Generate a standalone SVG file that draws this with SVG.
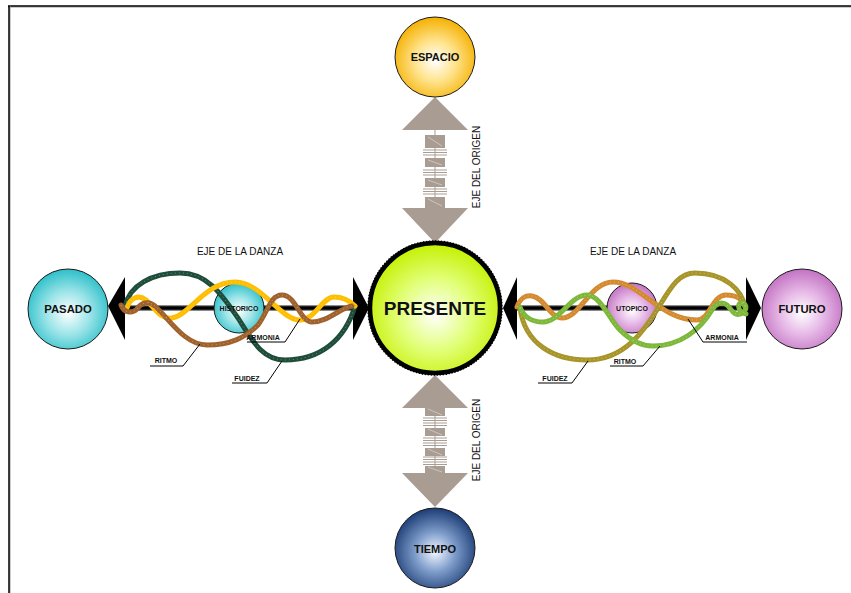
<svg xmlns="http://www.w3.org/2000/svg" xmlns:xlink="http://www.w3.org/1999/xlink" width="851" height="593" viewBox="0 0 851 593">
<style>
  .node{stroke:#1a1a1a;stroke-width:1}
  .lbl{font-family:"Liberation Sans",Arial,sans-serif;font-weight:bold;fill:#111;text-anchor:middle}
  .axis{font-family:"Liberation Sans",Arial,sans-serif;font-size:10px;fill:#111;text-anchor:middle}
  .small{font-family:"Liberation Sans",Arial,sans-serif;font-weight:bold;font-size:7px;fill:#111;text-anchor:middle}
  .rope{fill:none;stroke-width:5;stroke-linecap:round;stroke-linejoin:round}
  .tex{fill:none;stroke:#ffffff;stroke-width:1;stroke-dasharray:1 3;opacity:.35}
  .lead{fill:none;stroke:#000;stroke-width:1}
  .tri{fill:#A99C93}
  .box{fill:#A99C93}
  .rung{stroke:#A99C93;stroke-width:1}
  .diag{stroke:#D6CEC8;stroke-width:0.8}
  .head{fill:#000}
</style>
<defs>
  <radialGradient id="gOrange" cx="50%" cy="55%" r="55%">
    <stop offset="0" stop-color="#FFFFFF"/>
    <stop offset="0.45" stop-color="#FFE48F"/>
    <stop offset="1" stop-color="#F5B000"/>
  </radialGradient>
  <radialGradient id="gGreen" cx="50%" cy="55%" r="55%">
    <stop offset="0" stop-color="#FFFFFF"/>
    <stop offset="0.5" stop-color="#E2FF7A"/>
    <stop offset="1" stop-color="#C4F000"/>
  </radialGradient>
  <radialGradient id="gBlue" cx="50%" cy="55%" r="55%">
    <stop offset="0" stop-color="#F4F8FF"/>
    <stop offset="0.45" stop-color="#7F9DCB"/>
    <stop offset="1" stop-color="#1B3C75"/>
  </radialGradient>
  <radialGradient id="gCyan" cx="50%" cy="55%" r="55%">
    <stop offset="0" stop-color="#FFFFFF"/>
    <stop offset="0.5" stop-color="#9BE4E8"/>
    <stop offset="1" stop-color="#2DBFC9"/>
  </radialGradient>
  <radialGradient id="gPink" cx="50%" cy="55%" r="55%">
    <stop offset="0" stop-color="#FFFFFF"/>
    <stop offset="0.5" stop-color="#E6B8E6"/>
    <stop offset="1" stop-color="#C272C2"/>
  </radialGradient>
  <path id="lY" d="M127,308 C130,298 138,294 146,300 C154,307 160,320 172,318 C190,315 205,282 235,282 C262,282 280,320 300,320 C315,320 322,297 334,297 C346,297 352,303 355,306"/>
  <path id="lB" d="M121,305 C124,313 132,314 137,309 C141,303 148,300 155,306 C170,320 185,345 207,345 C230,345 245,338 258,325 C268,312 270,295 282,295 C296,295 300,322 312,322 C328,322 340,308 352,306"/>
  <path id="lG" d="M125,306 C130,285 152,273 180,273 C208,273 222,295 238,318 C252,340 262,360 285,360 C320,360 345,340 355,306"/>
  <path id="rO" d="M517,307 C520,298 526,295 532,296 C545,298 550,318 562,318 C580,318 590,282 613,282 C640,282 660,320 697,320 C710,320 712,295 726,295 C738,295 742,300 745,306"/>
  <path id="rG" d="M520,307 C524,318 532,322 543,322 C560,322 570,295 587,295 C600,295 610,320 620,330 C630,340 640,346 653,346 C680,346 700,330 712,310 C716,303 722,301 727,305 C732,310 734,316 740,314 C747,312 748,304 742,303 C737,302 737,312 746,314"/>
  <path id="rL" d="M520,308 C525,345 555,360 587,360 C625,360 645,330 660,305 C672,285 680,273 695,273 C725,273 742,290 745,307"/>
</defs>

<rect x="0" y="0" width="851" height="593" fill="#FFFFFF"/>
<g id="frame">
  <line x1="8" y1="7" x2="851" y2="7" stroke="#999" stroke-width="1"/>
  <line x1="8" y1="6" x2="851" y2="6" stroke="#000" stroke-width="1.5"/>
  <line x1="10" y1="6" x2="10" y2="593" stroke="#999" stroke-width="1"/>
  <line x1="9" y1="6" x2="9" y2="593" stroke="#000" stroke-width="1.5"/>
</g>

<g id="connectors">
  <g id="axis-top">
    <line x1="435" y1="130" x2="435" y2="208" class="rung"/>
    <g class="rung">
      <line x1="423" y1="150" x2="447" y2="150"/><line x1="423" y1="152.5" x2="447" y2="152.5"/><line x1="423" y1="155" x2="447" y2="155"/>
      <line x1="423" y1="170" x2="447" y2="170"/><line x1="423" y1="172.5" x2="447" y2="172.5"/><line x1="423" y1="175" x2="447" y2="175"/>
      <line x1="423" y1="189" x2="447" y2="189"/><line x1="423" y1="191.5" x2="447" y2="191.5"/><line x1="423" y1="194" x2="447" y2="194"/>
    </g>
    <rect x="425" y="135" width="20" height="13" class="box"/>
    <rect x="425" y="158" width="20" height="9" class="box"/>
    <rect x="425" y="178" width="20" height="9" class="box"/>
    <rect x="425" y="197" width="20" height="11" class="box"/>
    <g class="diag">
      <line x1="428" y1="137" x2="442" y2="146"/><line x1="428" y1="160" x2="442" y2="165"/>
      <line x1="428" y1="180" x2="442" y2="185"/><line x1="428" y1="199" x2="442" y2="206"/>
    </g>
    <polygon points="435,97 468,130 402,130" class="tri"/>
    <polygon points="402,208 468,208 435,243" class="tri"/>
  </g>
  <g id="axis-bottom">
    <line x1="435" y1="408" x2="435" y2="473" class="rung"/>
    <g class="rung">
      <line x1="423" y1="418" x2="447" y2="418"/><line x1="423" y1="420.5" x2="447" y2="420.5"/><line x1="423" y1="423" x2="447" y2="423"/><line x1="423" y1="425.5" x2="447" y2="425.5"/>
      <line x1="423" y1="438" x2="447" y2="438"/><line x1="423" y1="440.5" x2="447" y2="440.5"/><line x1="423" y1="443" x2="447" y2="443"/><line x1="423" y1="445.5" x2="447" y2="445.5"/>
      <line x1="423" y1="457" x2="447" y2="457"/><line x1="423" y1="459.5" x2="447" y2="459.5"/><line x1="423" y1="462" x2="447" y2="462"/><line x1="423" y1="464.5" x2="447" y2="464.5"/>
    </g>
    <rect x="425" y="408" width="20" height="8" class="box"/>
    <rect x="425" y="428" width="20" height="8" class="box"/>
    <rect x="425" y="448" width="20" height="8" class="box"/>
    <rect x="425" y="466" width="20" height="7" class="box"/>
    <g class="diag">
      <line x1="428" y1="409" x2="442" y2="415"/><line x1="428" y1="429" x2="442" y2="435"/>
      <line x1="428" y1="449" x2="442" y2="455"/><line x1="428" y1="467" x2="442" y2="472"/>
    </g>
    <polygon points="435,375 468,408 402,408" class="tri"/>
    <polygon points="402,473 468,473 435,507" class="tri"/>
  </g>
  <g id="axis-left">
    <line x1="120" y1="308" x2="358" y2="308" stroke="#8a8a8a" stroke-width="6"/>
    <line x1="120" y1="308" x2="358" y2="308" stroke="#000" stroke-width="3.5"/>
    <polygon points="108,306 125,277 125,340" class="head"/>
    <polygon points="353,277 369,308 353,340" class="head"/>
  </g>
  <g id="axis-right">
    <line x1="512" y1="308" x2="752" y2="308" stroke="#8a8a8a" stroke-width="6"/>
    <line x1="512" y1="308" x2="752" y2="308" stroke="#000" stroke-width="3.5"/>
    <polygon points="503,308 517,277 517,340" class="head"/>
    <polygon points="746,277 761,308 746,340" class="head"/>
  </g>
</g>

<g id="axis-labels">
  <text x="240" y="255" class="axis">EJE DE LA DANZA</text>
  <text x="633" y="255" class="axis">EJE DE LA DANZA</text>
  <text transform="translate(480,167) rotate(-90)" class="axis">EJE DEL ORIGEN</text>
  <text transform="translate(480,440) rotate(-90)" class="axis">EJE DEL ORIGEN</text>
</g>

<g id="node-historico">
  <circle cx="239" cy="308" r="25" fill="url(#gCyan)" class="node"/>
</g>
<g id="node-utopico">
  <circle cx="632" cy="308" r="25" fill="url(#gPink)" class="node"/>
</g>

<g id="curves">
  <use href="#lG" xlink:href="#lG" class="rope" stroke="#1E4D3A"/>
  <use href="#lY" xlink:href="#lY" class="rope" stroke="#FFBE00"/>
  <use href="#lB" xlink:href="#lB" class="rope" stroke="#A0622D"/>
  <use href="#rO" xlink:href="#rO" class="rope" stroke="#D48B30"/>
  <use href="#rL" xlink:href="#rL" class="rope" stroke="#A8952A"/>
  <use href="#rG" xlink:href="#rG" class="rope" stroke="#7DB83A"/>
  <use href="#lG" xlink:href="#lG" class="tex"/>
  <use href="#lY" xlink:href="#lY" class="tex"/>
  <use href="#lB" xlink:href="#lB" class="tex"/>
  <use href="#rO" xlink:href="#rO" class="tex"/>
  <use href="#rL" xlink:href="#rL" class="tex"/>
  <use href="#rG" xlink:href="#rG" class="tex"/>
</g>

<g id="node-labels">
  <text x="239" y="311" class="lbl" font-size="7">HISTORICO</text>
  <text x="632" y="311" class="lbl" font-size="7">UTOPICO</text>
</g>

<g id="curve-labels">
  <polyline points="150,366 183,366 200,344" class="lead"/>
  <text x="166" y="363" class="small">RITMO</text>
  <polyline points="247,342 285,342 300,319" class="lead"/>
  <text x="263" y="340" class="small">ARMONIA</text>
  <polyline points="232,383 267,383 282,361" class="lead"/>
  <text x="247" y="381" class="small">FUIDEZ</text>
  <polyline points="538,383 572,383 588,361" class="lead"/>
  <text x="555" y="381" class="small">FUIDEZ</text>
  <polyline points="610,366 643,366 660,346" class="lead"/>
  <text x="625" y="364" class="small">RITMO</text>
  <polyline points="688,319 703,342 747,342" class="lead"/>
  <text x="722" y="340" class="small">ARMONIA</text>
</g>

<g id="node-espacio">
  <circle cx="435" cy="57" r="40" fill="url(#gOrange)" class="node"/>
  <text x="435" y="61" class="lbl" font-size="11">ESPACIO</text>
</g>
<g id="node-presente">
  <circle cx="435" cy="308" r="65" fill="url(#gGreen)" stroke="#000" stroke-width="4.5"/>
  <circle cx="435" cy="308" r="67" fill="none" stroke="#000" stroke-width="1.5" stroke-dasharray="1.5 1.5"/>
  <text x="435" y="315" class="lbl" font-size="19">PRESENTE</text>
</g>
<g id="node-tiempo">
  <circle cx="435" cy="548" r="40" fill="url(#gBlue)" class="node"/>
  <text x="435" y="553" class="lbl" font-size="11">TIEMPO</text>
</g>
<g id="node-pasado">
  <circle cx="68" cy="309" r="40" fill="url(#gCyan)" class="node"/>
  <text x="68" y="313" class="lbl" font-size="11.3">PASADO</text>
</g>
<g id="node-futuro">
  <circle cx="802" cy="309" r="40" fill="url(#gPink)" class="node"/>
  <text x="802" y="313" class="lbl" font-size="11.3">FUTURO</text>
</g>
</svg>
